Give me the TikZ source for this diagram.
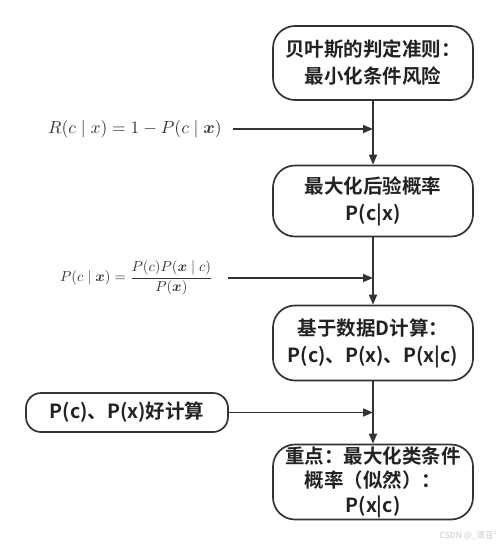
\documentclass[tikz,border=0pt]{standalone}
\usepackage{amsmath}
\usepackage{bm}
\usepackage{fontspec}
\newfontfamily\cjk{Noto Sans CJK SC}[BoldFont={Noto Sans CJK SC Bold}]
\usetikzlibrary{arrows.meta}
\definecolor{linec}{HTML}{333333}
\definecolor{textc}{HTML}{222222}
\tikzset{
  x=1pt,y=-1pt,
  flowbox/.style={draw=linec, line width=1.7pt, rounded corners=22pt, minimum width=200pt,
    align=center, font=\cjk\bfseries\fontsize{19.5}{27}\selectfont, text=textc, inner sep=0pt},
  formula/.style={inner sep=0pt, text=linec},
  arr/.style={draw=linec, line width=1.6pt, -{Triangle[length=10pt,width=8pt]}},
}
\begin{document}
\begin{tikzpicture}
\useasboundingbox (0,0) rectangle (500,547);
\node[flowbox, minimum height=74pt] (b1) at (373,63) {贝叶斯的判定准则：\\最小化条件风险};
\node[flowbox, minimum height=71pt] (b2) at (373,201) {最大化后验概率\\P(c|x)};
\node[flowbox, minimum height=75pt] (b3) at (373,343) {基于数据D计算：\\P(c)、P(x)、P(x|c)};
\node[flowbox, minimum height=75pt, font=\cjk\bfseries\fontsize{19.5}{24.5}\selectfont] (b4) at (373,482) {重点：最大化类条件\\概率（似然）：\\P(x|c)};
\node[flowbox, minimum height=39pt, minimum width=202pt, rounded corners=15pt] (lb) at (127,412.5) {P(c)、P(x)好计算};
\node[formula, anchor=east] (f1) at (222,129) {\scalebox{1.75}{$R(c\mid x)=1-P(c\mid \bm{x})$}};
\node[formula, anchor=east] (f2) at (213,278) {\scalebox{1.45}{$P(c\mid \bm{x})=\dfrac{P(c)P(\bm{x}\mid c)}{P(\bm{x})}$}};
\coordinate (j1) at (373,129);
\coordinate (j2) at (373,278);
\coordinate (j3) at (373,412.5);
\coordinate (s1) at (233,129);
\coordinate (s2) at (228,278);
\draw[arr] (b1) -- (b2);
\draw[arr] (b2) -- (b3);
\draw[arr] (b3) -- (b4);
\draw[arr] (s1) -- (j1);
\draw[arr] (s2) -- (j2);
\draw[arr] (lb) -- (j3);
\node[anchor=east, inner sep=0pt, text=black!22, font=\cjk\fontsize{8.5}{10}\selectfont] (wm) at (497,536) {CSDN @\_清豆°};
\end{tikzpicture}
\end{document}
